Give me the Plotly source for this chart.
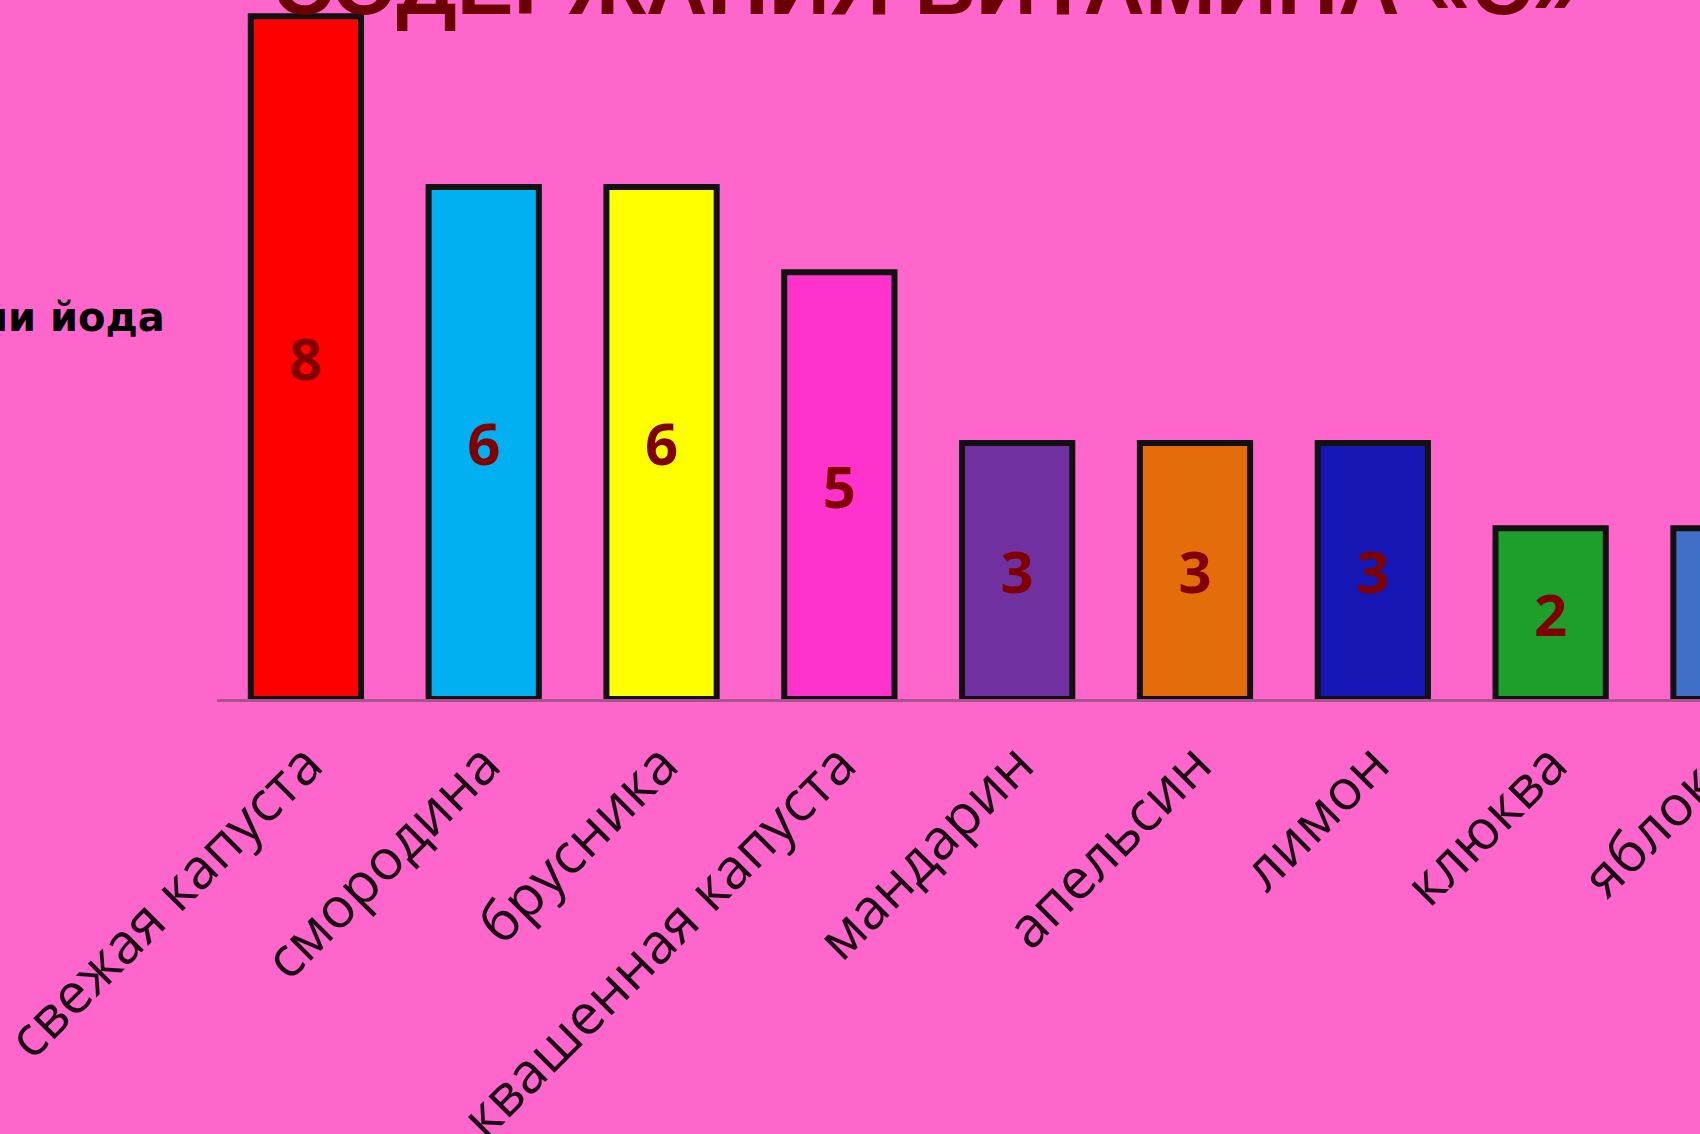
import plotly.graph_objects as go

categories = ["свежая капуста", "смородина", "брусника", "квашенная капуста",
              "мандарин", "апельсин", "лимон", "клюква", "яблоко"]
values = [8, 6, 6, 5, 3, 3, 3, 2, 2]
bar_colors = ["#FF0000", "#00B0F0", "#FFFF00", "#FF33CC", "#7030A0",
              "#E46C0A", "#1616B4", "#1E9E2A", "#3F6FC6"]
title_text = "СОДЕРЖАНИЯ ВИТАМИНА «С»"
axis_label = "капли йода"

BG = "#FF66CC"
x_min, x_max = -0.5, 7.84
y_max = 8.19
tick_font = dict(family="Open Sans", size=56, color="#1A0A14")

fig = go.Figure(go.Bar(
    x=categories, y=values,
    marker=dict(color=bar_colors, line=dict(color="#111111", width=6)),
    width=0.62,
    text=values, textposition="inside", insidetextanchor="middle", textangle=0,
    textfont=dict(family="Open Sans", size=58, color="#800000", weight="bold"),
    hoverinfo="skip",
))

# category positions outside the visible axis range (cropped chart) get their label as annotation
last_idx = len(categories) - 1
last_frac = (last_idx - x_min) / (x_max - x_min)

fig.update_layout(
    width=1700, height=1134,
    margin=dict(l=217, r=0, t=0, b=435, autoexpand=False),
    paper_bgcolor=BG, plot_bgcolor=BG,
    showlegend=False,
    xaxis=dict(type="category", range=[x_min, x_max], showline=True, automargin=False,
               linecolor="#A8528E", linewidth=3, showgrid=False, zeroline=False,
               ticks="", tickangle=-45, tickfont=tick_font, ticklabelstandoff=7),
    yaxis=dict(range=[0, y_max], visible=False, automargin=False),
    annotations=[
        dict(text=title_text, xref="paper", yref="paper", x=0.478, y=1.0215,
             xanchor="center", yanchor="middle", showarrow=False,
             font=dict(family="Liberation Sans", size=85, color="#6B0000", weight="bold")),
        dict(text=axis_label, xref="paper", yref="paper", x=0, y=0.5465,
             xshift=-50, xanchor="right", yanchor="middle", showarrow=False,
             font=dict(family="DejaVu Sans", size=40, color="#000000", weight="bold")),
        dict(text=categories[last_idx], xref="paper", yref="paper", x=last_frac, y=0,
             xanchor="right", yanchor="top", yshift=-20, xshift=29, textangle=-45,
             showarrow=False, font=tick_font),
    ],
)

fig.write_html("out.html")
